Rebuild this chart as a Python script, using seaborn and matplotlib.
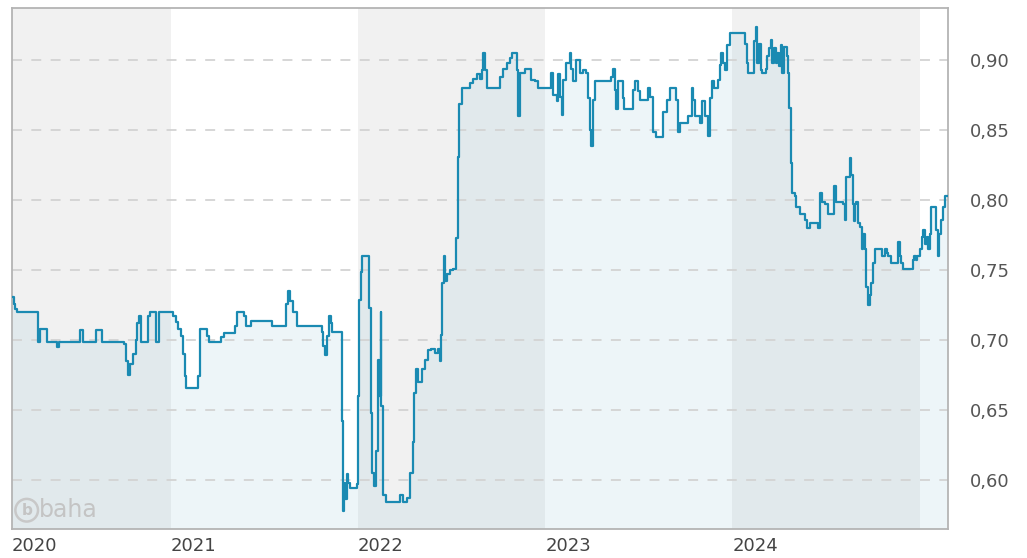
import pandas as pd
import matplotlib.pyplot as plt
import seaborn as sns

# price history (value holds until the next date)
dates = [
    '2020-02-26', '2020-02-29', '2020-03-03', '2020-03-06', '2020-04-16', '2020-04-21',
    '2020-05-05', '2020-05-24', '2020-05-28', '2020-07-08', '2020-07-14', '2020-08-08',
    '2020-08-20', '2020-10-02', '2020-10-06', '2020-10-10', '2020-10-13', '2020-10-19',
    '2020-10-24', '2020-10-27', '2020-10-31', '2020-11-03', '2020-11-17', '2020-11-21',
    '2020-12-03', '2020-12-09', '2021-01-05', '2021-01-10', '2021-01-15', '2021-01-20',
    '2021-01-24', '2021-01-28', '2021-01-30', '2021-02-22', '2021-02-26', '2021-03-13',
    '2021-03-17', '2021-04-09', '2021-04-15', '2021-05-05', '2021-05-10', '2021-05-23',
    '2021-05-27', '2021-06-06', '2021-07-18', '2021-08-13', '2021-08-18', '2021-08-22',
    '2021-08-28', '2021-09-03', '2021-10-22', '2021-10-25', '2021-10-29', '2021-11-02',
    '2021-11-06', '2021-11-09', '2021-11-12', '2021-11-30', '2021-12-03', '2021-12-05',
    '2021-12-07', '2021-12-10', '2021-12-12', '2021-12-16', '2021-12-29', '2022-01-01',
    '2022-01-03', '2022-01-06', '2022-01-09', '2022-01-23', '2022-01-26', '2022-01-29',
    '2022-02-01', '2022-02-04', '2022-02-08', '2022-02-11', '2022-02-14', '2022-02-15',
    '2022-02-19', '2022-02-25', '2022-03-24', '2022-03-30', '2022-04-06', '2022-04-12',
    '2022-04-18', '2022-04-20', '2022-04-24', '2022-04-28', '2022-05-05', '2022-05-11',
    '2022-05-18', '2022-05-24', '2022-05-31', '2022-06-06', '2022-06-10', '2022-06-11',
    '2022-06-14', '2022-06-17', '2022-06-19', '2022-06-23', '2022-06-29', '2022-07-06',
    '2022-07-11', '2022-07-14', '2022-07-15', '2022-07-17', '2022-07-22', '2022-08-07',
    '2022-08-14', '2022-08-20', '2022-08-27', '2022-08-30', '2022-09-02', '2022-09-05',
    '2022-09-09', '2022-10-05', '2022-10-11', '2022-10-18', '2022-10-24', '2022-10-29',
    '2022-11-06', '2022-11-09', '2022-11-12', '2022-11-22', '2022-12-05', '2022-12-12',
    '2022-12-18', '2023-01-13', '2023-01-17', '2023-01-23', '2023-01-26', '2023-01-30',
    '2023-02-02', '2023-02-05', '2023-02-10', '2023-02-18', '2023-02-21', '2023-02-25',
    '2023-03-03', '2023-03-10', '2023-03-16', '2023-03-21', '2023-03-26', '2023-03-29',
    '2023-04-01', '2023-04-04', '2023-04-08', '2023-05-10', '2023-05-13', '2023-05-17',
    '2023-05-20', '2023-05-23', '2023-06-01', '2023-06-04', '2023-06-21', '2023-06-25',
    '2023-07-01', '2023-07-05', '2023-07-21', '2023-07-24', '2023-07-30', '2023-08-06',
    '2023-08-19', '2023-08-26', '2023-09-01', '2023-09-14', '2023-09-17', '2023-09-21',
    '2023-10-07', '2023-10-14', '2023-10-17', '2023-10-20', '2023-10-30', '2023-11-02',
    '2023-11-09', '2023-11-14', '2023-11-18', '2023-11-22', '2023-11-27', '2023-12-04',
    '2023-12-07', '2023-12-10', '2023-12-14', '2023-12-17', '2023-12-22', '2023-12-27',
    '2024-01-25', '2024-01-29', '2024-02-01', '2024-02-12', '2024-02-17', '2024-02-19',
    '2024-02-22', '2024-02-25', '2024-02-28', '2024-03-06', '2024-03-09', '2024-03-12',
    '2024-03-16', '2024-03-19', '2024-03-22', '2024-03-26', '2024-03-29', '2024-04-01',
    '2024-04-04', '2024-04-07', '2024-04-10', '2024-04-16', '2024-04-19', '2024-04-21',
    '2024-04-24', '2024-04-27', '2024-05-02', '2024-05-05', '2024-05-12', '2024-05-22',
    '2024-05-25', '2024-05-31', '2024-06-16', '2024-06-19', '2024-06-23', '2024-06-29',
    '2024-07-06', '2024-07-17', '2024-07-22', '2024-08-04', '2024-08-07', '2024-08-10',
    '2024-08-17', '2024-08-20', '2024-08-23', '2024-08-25', '2024-08-27', '2024-08-30',
    '2024-09-02', '2024-09-05', '2024-09-09', '2024-09-12', '2024-09-15', '2024-09-18',
    '2024-09-21', '2024-09-25', '2024-09-28', '2024-10-02', '2024-10-05', '2024-10-18',
    '2024-10-24', '2024-10-28', '2024-10-31', '2024-11-06', '2024-11-20', '2024-11-23',
    '2024-11-25', '2024-11-28', '2024-12-18', '2024-12-21', '2024-12-24', '2024-12-27',
    '2025-01-01', '2025-01-04', '2025-01-07', '2025-01-10', '2025-01-14', '2025-01-17',
    '2025-01-20', '2025-01-23', '2025-02-02', '2025-02-05', '2025-02-08', '2025-02-11',
    '2025-02-14', '2025-02-18', '2025-02-24',
]
prices = [
    0.731, 0.726, 0.722, 0.720, 0.699, 0.708,
    0.699, 0.695, 0.699, 0.707, 0.699, 0.707,
    0.699, 0.697, 0.685, 0.675, 0.683, 0.690,
    0.700, 0.712, 0.717, 0.699, 0.717, 0.720,
    0.699, 0.720, 0.717, 0.713, 0.708, 0.703,
    0.690, 0.674, 0.666, 0.674, 0.708, 0.703,
    0.699, 0.702, 0.705, 0.710, 0.720, 0.717,
    0.710, 0.714, 0.710, 0.726, 0.735, 0.728,
    0.720, 0.710, 0.706, 0.696, 0.689, 0.703,
    0.717, 0.712, 0.706, 0.642, 0.578, 0.598,
    0.586, 0.604, 0.598, 0.594, 0.597, 0.660,
    0.729, 0.749, 0.760, 0.723, 0.648, 0.605,
    0.596, 0.621, 0.686, 0.660, 0.720, 0.653,
    0.589, 0.584, 0.589, 0.584, 0.587, 0.605,
    0.627, 0.662, 0.679, 0.670, 0.679, 0.686,
    0.693, 0.694, 0.691, 0.694, 0.685, 0.704,
    0.741, 0.760, 0.742, 0.747, 0.750, 0.751,
    0.773, 0.800, 0.831, 0.869, 0.880, 0.884,
    0.887, 0.890, 0.887, 0.893, 0.905, 0.893,
    0.880, 0.888, 0.894, 0.898, 0.902, 0.905,
    0.893, 0.860, 0.891, 0.894, 0.886, 0.885,
    0.880, 0.891, 0.875, 0.871, 0.890, 0.874,
    0.861, 0.886, 0.898, 0.905, 0.894, 0.885,
    0.900, 0.891, 0.893, 0.891, 0.873, 0.850,
    0.839, 0.872, 0.885, 0.888, 0.894, 0.879,
    0.865, 0.885, 0.873, 0.865, 0.879, 0.885,
    0.878, 0.872, 0.880, 0.874, 0.849, 0.845,
    0.863, 0.872, 0.880, 0.872, 0.849, 0.855,
    0.860, 0.880, 0.872, 0.860, 0.855, 0.871,
    0.860, 0.846, 0.873, 0.885, 0.880, 0.886,
    0.897, 0.905, 0.898, 0.893, 0.911, 0.920,
    0.912, 0.898, 0.891, 0.914, 0.924, 0.898,
    0.912, 0.893, 0.891, 0.894, 0.903, 0.909,
    0.915, 0.898, 0.909, 0.898, 0.905, 0.896,
    0.911, 0.891, 0.910, 0.903, 0.891, 0.866,
    0.827, 0.805, 0.803, 0.795, 0.790, 0.786,
    0.780, 0.784, 0.780, 0.805, 0.799, 0.797,
    0.790, 0.810, 0.799, 0.797, 0.786, 0.817,
    0.830, 0.818, 0.797, 0.785, 0.797, 0.799,
    0.784, 0.781, 0.765, 0.776, 0.765, 0.738,
    0.725, 0.732, 0.741, 0.755, 0.765, 0.760,
    0.765, 0.762, 0.760, 0.755, 0.770, 0.760,
    0.755, 0.751, 0.757, 0.760, 0.757, 0.760,
    0.765, 0.774, 0.779, 0.769, 0.774, 0.765,
    0.776, 0.795, 0.779, 0.760, 0.776, 0.786,
    0.795, 0.803, 0.803,
]

# shaded (grey) calendar years
shaded_start = ['2020-01-01', '2022-01-01', '2024-01-01']
shaded_end = ['2021-01-01', '2023-01-01', '2025-01-01']

x_ticks = ['2020-02-26', '2021-01-01', '2022-01-01', '2023-01-01', '2024-01-01']
x_labels = ['2020', '2021', '2022', '2023', '2024']
y_ticks = [0.60, 0.65, 0.70, 0.75, 0.80, 0.85, 0.90]
y_labels = ['0,60', '0,65', '0,70', '0,75', '0,80', '0,85', '0,90']

df = pd.DataFrame({'date': pd.to_datetime(dates), 'price': prices})

sns.set_style('white')
plt.rcParams['font.family'] = ['DejaVu Sans']

W, H = 1027, 558
fig = plt.figure(figsize=(W / 100, H / 100), dpi=100)
ax = fig.add_axes([12 / W, 1 - 529 / H, (947.7 - 12) / W, (529 - 7.5) / H])

for a, b in zip(shaded_start, shaded_end):
    ax.axvspan(pd.Timestamp(a), pd.Timestamp(b), color='#f1f1f1', lw=0, zorder=0)

ax.fill_between(df['date'], df['price'], 0.5, step='post',
                color='#55a5c3', alpha=0.1, lw=0, zorder=1)

for t in y_ticks:
    ax.axhline(t, color='#d3d3d3', lw=1.3, ls=(0, (5.5, 5.2)), zorder=2)

sns.lineplot(data=df, x='date', y='price', drawstyle='steps-post',
             color='#1a8ab2', lw=1.6, estimator=None, ax=ax, zorder=3)

ax.set_xlim(pd.Timestamp('2020-02-26'), pd.Timestamp('2025-02-24'))
ax.set_ylim(0.5649, 0.9379)

ax.set_xticks(pd.to_datetime(x_ticks))
ax.set_xticklabels(x_labels, ha='left')
ax.yaxis.tick_right()
ax.set_yticks(y_ticks)
ax.set_yticklabels(y_labels)
ax.tick_params(axis='x', length=0, pad=6, labelsize=13, labelcolor='#444444')
ax.tick_params(axis='y', length=0, pad=16, labelsize=13, labelcolor='#555555')
ax.set_xlabel('')
ax.set_ylabel('')

for s in ax.spines.values():
    s.set_visible(True)
    s.set_color('#b4b4b4')
    s.set_linewidth(1.3)

# baha watermark
ax.text(0.0157, 0.036, 'b', transform=ax.transAxes, fontsize=11, fontweight='bold',
        color='#c4c4c4', ha='center', va='center', zorder=4,
        bbox=dict(boxstyle='circle,pad=0.25', fc='none', ec='#c8c8c8', lw=1.8))
ax.text(0.0285, 0.036, 'baha', transform=ax.transAxes, fontsize=17,
        color='#c4c4c4', ha='left', va='center', zorder=4)

plt.savefig('out.png', dpi=100)
